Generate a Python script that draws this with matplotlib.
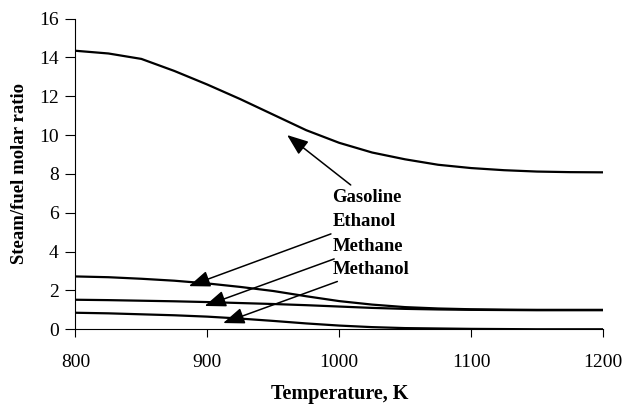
import matplotlib
matplotlib.use("Agg")
import matplotlib.pyplot as plt

# Steam/fuel molar ratio vs temperature for four fuels
temps = [800, 825, 850, 875, 900, 925, 950, 975, 1000, 1025, 1050, 1075, 1100, 1125, 1150, 1175, 1200]
gasoline = [14.34, 14.2, 13.92, 13.3, 12.6, 11.85, 11.05, 10.25, 9.6, 9.1, 8.75, 8.47, 8.3, 8.19, 8.12, 8.09, 8.08]
ethanol = [2.72, 2.68, 2.6, 2.5, 2.36, 2.18, 1.97, 1.7, 1.45, 1.27, 1.14, 1.07, 1.03, 1.01, 1.0, 1.0, 1.0]
methane = [1.52, 1.5, 1.47, 1.44, 1.4, 1.35, 1.3, 1.24, 1.17, 1.1, 1.05, 1.02, 1.0, 0.99, 0.98, 0.98, 0.98]
methanol = [0.85, 0.82, 0.77, 0.72, 0.65, 0.55, 0.43, 0.3, 0.19, 0.11, 0.06, 0.04, 0.02, 0.01, 0.0, 0.0, 0.0]

names = ["Gasoline", "Ethanol", "Methane", "Methanol"]
label_y = [6.76, 5.54, 4.25, 3.09]
arrow_tip = [(960.5, 10.0), (886, 2.22), (898, 1.2), (912, 0.32)]

plt.rcParams['font.family'] = ['Liberation Serif', 'DejaVu Serif']

fig = plt.figure(figsize=(6.34, 4.07), dpi=100)
ax = fig.add_axes([0.119, 0.191, 0.832, 0.7635])

for series in [gasoline, ethanol, methane, methanol]:
    ax.plot(temps, series, color='black', linewidth=1.6)

# labels with arrows pointing to each curve
for name, ly, tip in zip(names, label_y, arrow_tip):
    ax.annotate(name, xy=tip, xytext=(995, ly), fontsize=13.4, fontweight='bold',
                va='center', ha='left',
                arrowprops=dict(arrowstyle='-|>,head_length=1.3,head_width=0.5',
                                mutation_scale=10, color='black', lw=1.1,
                                shrinkA=2, shrinkB=0))

ax.set_xlim(800, 1200)
ax.set_ylim(0, 16)
ax.set_xticks([800, 900, 1000, 1100, 1200])
ax.set_yticks(range(0, 17, 2))
ax.tick_params(axis='x', labelsize=14, length=6, pad=12, width=0.8)
ax.tick_params(axis='y', labelsize=14, length=7, pad=5, width=0.8)
ax.spines['top'].set_visible(False)
ax.spines['right'].set_visible(False)
ax.spines['left'].set_linewidth(0.8)
ax.spines['bottom'].set_linewidth(0.8)

ax.set_xlabel("Temperature, K", fontsize=14.5, fontweight='bold', labelpad=9)
ax.set_ylabel("Steam/fuel molar ratio", fontsize=13.5, fontweight='bold', labelpad=8)

fig.savefig("out.png", dpi=100)
